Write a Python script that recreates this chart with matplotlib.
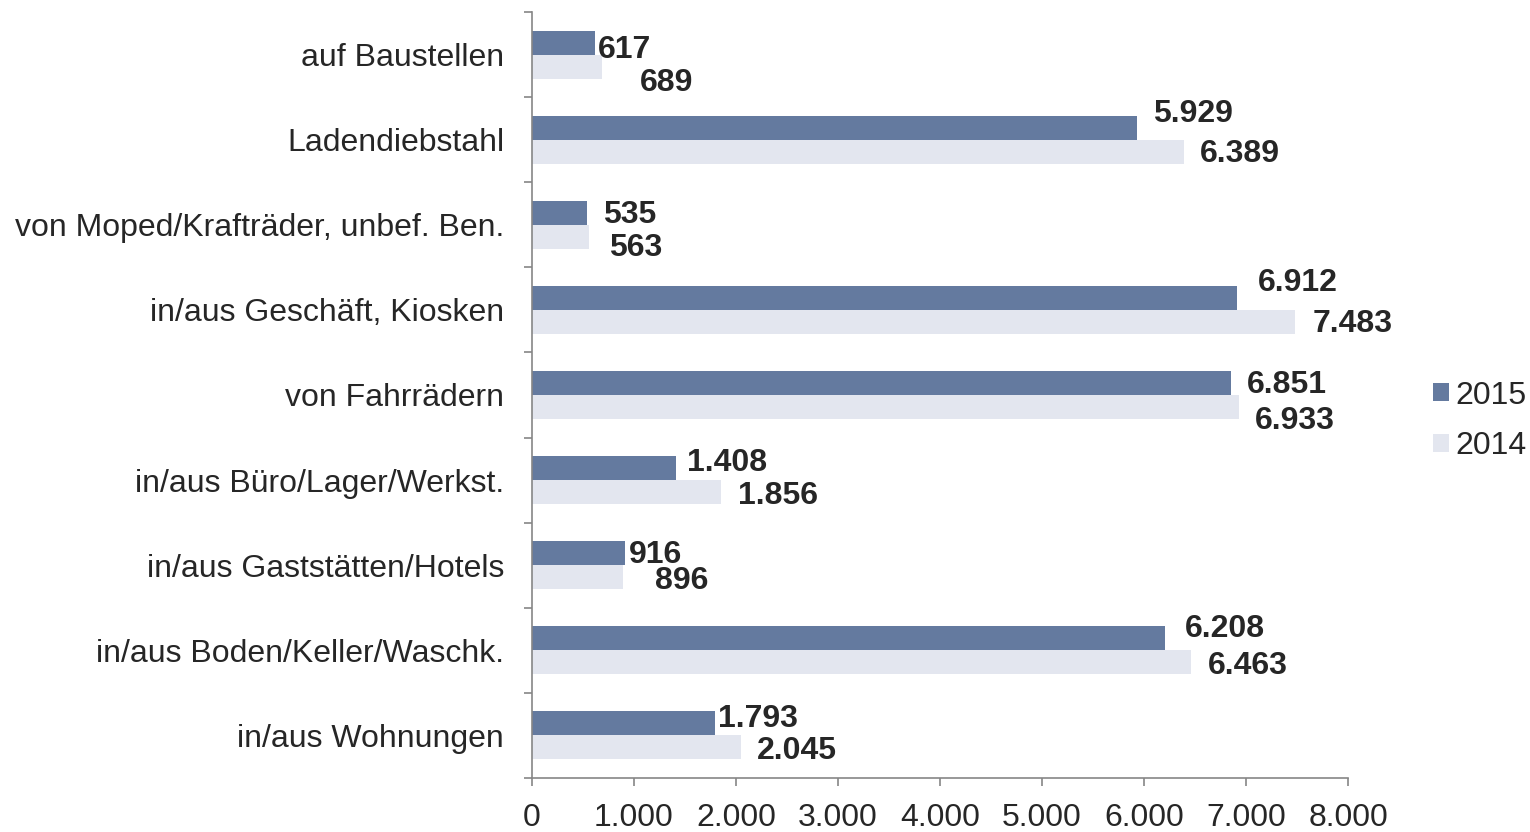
import matplotlib
matplotlib.use('Agg')
import matplotlib.pyplot as plt
import numpy as np
from matplotlib.ticker import FuncFormatter, FixedLocator

# data (top to bottom, as in the chart)
categories = ['auf Baustellen', 'Ladendiebstahl', 'von Moped/Krafträder, unbef. Ben.',
              'in/aus Geschäft, Kiosken', 'von Fahrrädern', 'in/aus Büro/Lager/Werkst.',
              'in/aus Gaststätten/Hotels', 'in/aus Boden/Keller/Waschk.', 'in/aus Wohnungen']
values_2015 = [617, 5929, 535, 6912, 6851, 1408, 916, 6208, 1793]
values_2014 = [689, 6389, 563, 7483, 6933, 1856, 896, 6463, 2045]
years = ['2015', '2014']

# label nudges in pixels (dx, dy) - Excel placed some labels off-centre
nudge_2015 = [(-13, -5), (0, 16), (0, 0), (5, 17), (0, 0), (-5, 7), (-13, 0), (4, 11), (-13, 6)]
nudge_2014 = [(22, -14), (0, 0), (4, -9), (1, 0), (0, -12), (1, -2), (16, -2), (1, -2), (0, -2)]

col_2015 = '#647a9f'
col_2014 = '#e3e6ef'
txt = '#262626'
axcol = '#868686'
fs = 23

plt.rcParams['font.family'] = ['Liberation Sans', 'DejaVu Sans']

fig = plt.figure(figsize=(15.3, 8.32), dpi=100)
ax = fig.add_axes([532/1530, 1-778/832, (1348-532)/1530, (778-12)/832])

y = np.arange(len(categories))
h = 0.282
b1 = ax.barh(y - h/2, values_2015, height=h, color=col_2015, label=years[0])
b2 = ax.barh(y + h/2, values_2014, height=h, color=col_2014, label=years[1])

ax.set_ylim(len(categories) - 0.5, -0.5)
ax.set_xlim(0, 8000)

fmt = FuncFormatter(lambda v, p: f'{int(v):,}'.replace(',', '.'))
ax.xaxis.set_major_formatter(fmt)
ax.set_xticks(np.arange(0, 8001, 1000))
ax.set_yticks(y)
ax.set_yticklabels(categories)
ax.yaxis.set_minor_locator(FixedLocator(np.arange(-0.5, len(categories), 1)))

ax.tick_params(axis='y', which='major', length=0, pad=20, labelsize=fs, labelcolor=txt)
ax.tick_params(axis='y', which='minor', length=6, color=axcol, width=1.2)
ax.tick_params(axis='x', length=6, color=axcol, width=1.2, pad=12, labelsize=fs, labelcolor=txt)

for s in ['top', 'right']:
    ax.spines[s].set_visible(False)
for s in ['left', 'bottom']:
    ax.spines[s].set_color(axcol)
    ax.spines[s].set_linewidth(1.2)

def lab(v):
    return f'{v:,}'.replace(',', '.')

for i in range(len(categories)):
    for vals, off, yy in [(values_2015, nudge_2015[i], y[i] - h/2), (values_2014, nudge_2014[i], y[i] + h/2)]:
        ax.annotate(lab(vals[i]), xy=(vals[i], yy), xytext=(16 + off[0], off[1] - 2),
                    textcoords='offset pixels', ha='left', va='center',
                    fontsize=fs, fontweight='bold', color=txt)

fig.legend(handles=[b1, b2], labels=years, loc='center left',
           bbox_to_anchor=(1404/1530, 1-421/832), frameon=False, fontsize=fs,
           handlelength=0.5, handleheight=0.5, handletextpad=0.22, labelspacing=0.65,
           labelcolor=txt)

fig.savefig('out.png', dpi=100)
